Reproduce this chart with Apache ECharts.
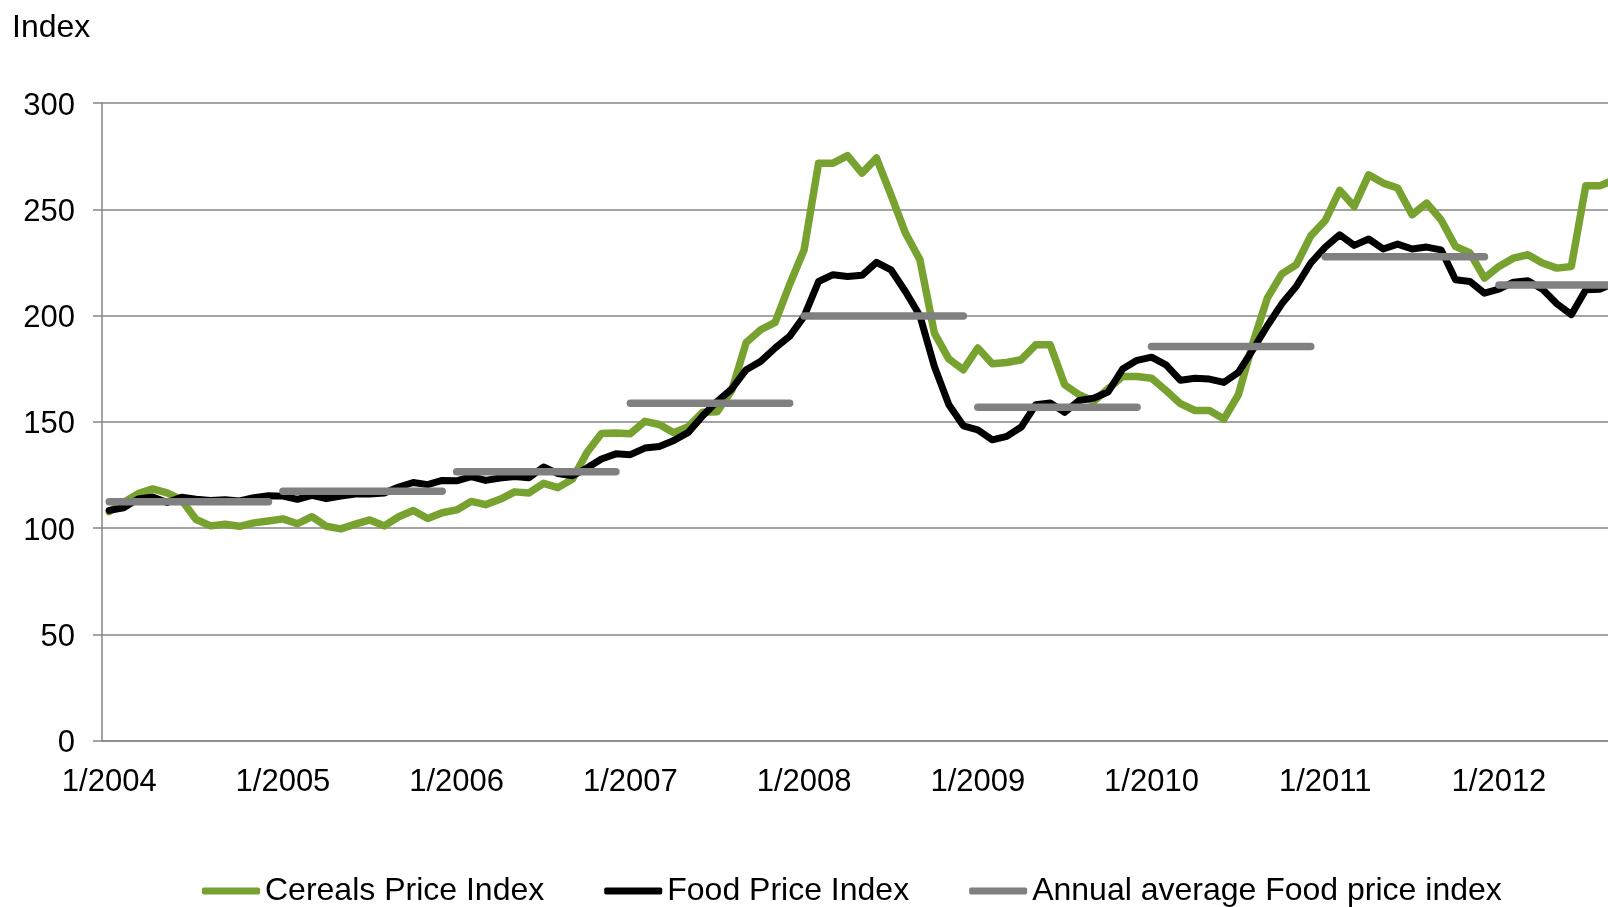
<!DOCTYPE html>
<html>
<head>
<meta charset="utf-8">
<script src="https://cdn.jsdelivr.net/npm/echarts@6/dist/echarts.min.js"></script>
<style>
  html, body { margin: 0; padding: 0; background: #fff; }
  #chart { width: 1608px; height: 907px; }
</style>
</head>
<body>
<div id="chart"></div>
<script>
// years and months on the category axis (Jan 2004 .. Sep 2012)
const years = [2004, 2005, 2006, 2007, 2008, 2009, 2010, 2011, 2012]
const lastMonth2012 = 9

// Cereals Price Index, monthly
const cereals = [
  107.7, 112, 116.2, 118.4, 116.5, 113.2, 104, 101, 101.8, 100.8, 102.4, 103.3,
  104.3, 102, 105.3, 100.8, 99.6, 101.8, 103.8, 101, 105.3, 108.2, 104.5, 107.2,
  108.5, 112.5, 111, 113.5, 117, 116.5, 121, 119, 123, 135.5, 144.5, 144.7,
  144.4, 150.2, 148.7, 144.8, 147.7, 154.5, 154.7, 164.7, 187.3, 193.3, 196.8, 214.6,
  230.9, 271.7, 271.7, 275.2, 267, 274.1, 256.8, 238.8, 226.2, 191.7, 179.5, 174.5,
  184.7, 177.3, 177.9, 179.2, 186.2, 186.2, 167.4, 162.7, 159.6, 165.5, 171.3, 171.3,
  170.5, 164.7, 158.5, 155.3, 155.3, 151.3, 162.7, 187, 208.2, 219.6, 223.9, 237.5,
  244.7, 258.9, 251.3, 266.2, 262.3, 260, 247.4, 252.9, 245.1, 232.5, 229.4, 217.6,
  223.1, 227, 228.6, 224.7, 222.3, 223.1, 261.1, 261.1, 264
]

// Food Price Index, monthly
const food = [
  108.3, 109.5, 113.7, 114.6, 112, 114.5, 113.5, 113, 113.3, 112.7, 114.3, 115.2,
  115, 113.5, 115.4, 113.8, 115, 116, 116, 116.5, 119.3, 121.4, 120.4, 122.4,
  122.2, 124.2, 122.4, 123.5, 124.2, 123.7, 128.7, 125.6, 124.6, 128.2, 132.5, 134.9,
  134.5, 137.6, 138.4, 141.2, 145, 152.8, 159.6, 165.4, 174.5, 178.4, 184.7, 190.2,
  199.6, 216, 219.2, 218.4, 218.9, 225, 221.5, 211.3, 199.9, 176, 158, 148.1,
  146.2, 141.5, 143.1, 147.5, 158, 158.8, 154.4, 160, 161.1, 164, 174.8, 178.9,
  180.4, 176.8, 169.5, 170.5, 170.1, 168.5, 173.2, 183.9, 195.2, 205.5, 213.7, 224.7,
  232.2, 238, 233, 236, 231.3, 233.6, 231.3, 232.2, 230.9, 216.8, 216, 210.5,
  212.4, 215.7, 216.4, 212.4, 205.5, 200.4, 212.1, 212.4, 215.5
]

// Annual average Food price index, one per year
const annualAverage = [112.4, 117.3, 126.5, 158.7, 199.8, 156.8, 185.4, 227.7, 214.4]

const yTicks = { min: 0, max: 300, interval: 50 }

const FONT = 'Liberation Sans, Arial, sans-serif'

// category labels m/yyyy
const categories = []
years.forEach(y => {
  const n = y === 2012 ? lastMonth2012 : 12
  for (let m = 1; m <= n; m++) categories.push(m + '/' + y)
})

// one gray segment per year
const annualSeries = years.map((y, k) => ({
  name: 'Annual average Food price index',
  type: 'line',
  data: categories.map(c => (c.endsWith('/' + y) ? annualAverage[k] : '-')),
  showSymbol: false,
  symbol: 'none',
  color: '#808080',
  lineStyle: { width: 7.5, color: '#808080', cap: 'round', join: 'round' },
  z: 4
}))

const chart = echarts.init(document.getElementById('chart'))

chart.setOption({
  animation: false,
  backgroundColor: '#ffffff',
  title: {
    text: 'Index',
    left: 12,
    top: 12,
    padding: 0,
    textStyle: { fontFamily: FONT, fontSize: 32, fontWeight: 'normal', color: '#000' }
  },
  grid: {
    left: 102,
    right: -14,
    top: 103,
    bottom: 166.5,
    containLabel: false,
    outerBoundsMode: 'none'
  },
  legend: {
    left: 197,
    top: 870,
    icon: 'roundRect',
    itemWidth: 58,
    itemHeight: 7,
    itemGap: 60,
    textStyle: { fontFamily: FONT, fontSize: 32, color: '#000' },
    data: ['Cereals Price Index', 'Food Price Index', 'Annual average Food price index']
  },
  xAxis: {
    type: 'category',
    data: categories,
    boundaryGap: true,
    axisLine: { lineStyle: { color: '#868686', width: 1.5 } },
    axisTick: { interval: 11, length: 9, lineStyle: { color: '#868686', width: 1.5 } },
    axisLabel: { interval: 11, margin: 26, fontFamily: FONT, fontSize: 31, color: '#000' },
    splitLine: { show: false }
  },
  yAxis: {
    type: 'value',
    min: yTicks.min,
    max: yTicks.max,
    interval: yTicks.interval,
    axisLine: { show: true, lineStyle: { color: '#868686', width: 1.5 } },
    axisTick: { show: true, length: 9, lineStyle: { color: '#868686', width: 1.5 } },
    axisLabel: {
      margin: 27,
      formatter: '{t|{value}}',
      rich: { t: { fontFamily: FONT, fontSize: 31, color: '#000', padding: [6, 0, 0, 0] } }
    },
    splitLine: { lineStyle: { color: '#868686', width: 1.5 } }
  },
  series: [
    {
      name: 'Cereals Price Index',
      type: 'line',
      data: cereals,
      showSymbol: false,
      symbol: 'none',
      color: '#77A22F',
      lineStyle: { width: 7.5, color: '#77A22F', cap: 'round', join: 'round' },
      z: 2
    },
    {
      name: 'Food Price Index',
      type: 'line',
      data: food,
      showSymbol: false,
      symbol: 'none',
      color: '#000000',
      lineStyle: { width: 7, color: '#000000', cap: 'round', join: 'round' },
      z: 3
    },
    ...annualSeries
  ]
})
</script>
</body>
</html>
